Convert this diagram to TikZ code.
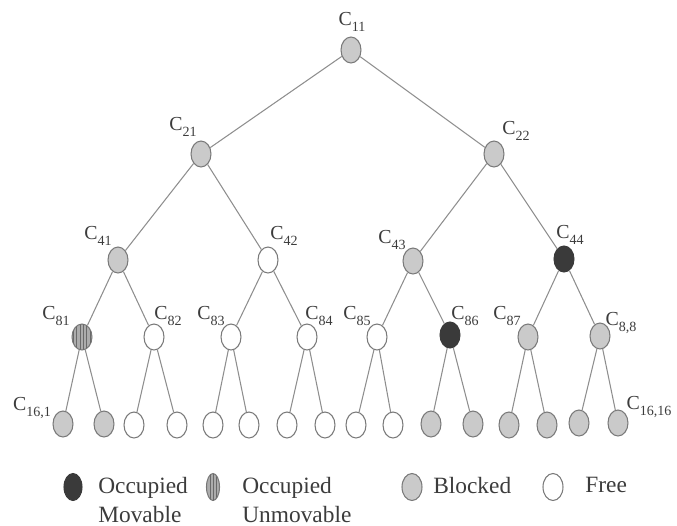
\documentclass[tikz,border=0pt]{standalone}
\usepackage{fontspec}
\setmainfont{Liberation Serif}
\usetikzlibrary{shapes.geometric}
\usetikzlibrary{patterns.meta}

\definecolor{edgegray}{HTML}{8E8E8E}
\definecolor{rimgray}{HTML}{7A7A7A}
\definecolor{blockgray}{HTML}{CACACA}
\definecolor{occgray}{HTML}{3A3A3A}
\definecolor{inkgray}{HTML}{3C3C3C}
\definecolor{stripegray}{HTML}{6A6A6A}

\newcommand{\cname}[1]{C\raisebox{-3.5pt}{\fontsize{8}{8}\selectfont #1}}

\begin{document}
\begin{tikzpicture}[x=0.02cm,y=-0.02cm]
	\tikzstyle{cell}=[draw=rimgray,line width=0.6pt,shape=ellipse,minimum width=0.4cm,minimum height=0.52cm,inner sep=0pt]
	\tikzstyle{blocked}=[cell,fill=blockgray]
	\tikzstyle{free}=[cell,fill=white]
	\tikzstyle{movable}=[cell,fill=occgray,draw=occgray]
	\tikzstyle{fixed}=[cell,fill=blockgray!85!black,postaction={pattern={Lines[angle=90,distance=1.9pt,line width=0.55pt]},pattern color=stripegray}]
	\tikzstyle{tag}=[inner sep=0pt,text=inkgray,font=\fontsize{11.3}{12}\selectfont]
	\tikzstyle{legend}=[inner sep=0pt,text=inkgray,align=left,anchor=north west,font=\fontsize{13.3}{16.4}\selectfont]
	\tikzstyle{edge}=[draw=edgegray,line width=0.6pt]
	
	\useasboundingbox (0,0) rectangle (677,525);
	
	\node[blocked](c11) at (351,50){};
	
	\node[blocked](c21) at (201,154){};
	\node[blocked](c22) at (494,154){};
	
	\node[blocked](c41) at (118,260){};
	\node[free](c42) at (268,260){};
	\node[blocked](c43) at (413,261){};
	\node[movable](c44) at (564,259){};
	
	\node[fixed](c81) at (82,337){};
	\node[free](c82) at (154,337){};
	\node[free](c83) at (231,337){};
	\node[free](c84) at (307,337){};
	\node[free](c85) at (377,337){};
	\node[movable](c86) at (450,335){};
	\node[blocked](c87) at (528,337){};
	\node[blocked](c88) at (600,336){};
	
	\node[blocked](d1) at (63,424){};
	\node[blocked](d2) at (104,424){};
	\node[free](d3) at (134,425){};
	\node[free](d4) at (177,425){};
	\node[free](d5) at (213,425){};
	\node[free](d6) at (249,425){};
	\node[free](d7) at (287,425){};
	\node[free](d8) at (325,425){};
	\node[free](d9) at (356,425){};
	\node[free](d10) at (393,425){};
	\node[blocked](d11) at (431,424){};
	\node[blocked](d12) at (473,424){};
	\node[blocked](d13) at (509,425){};
	\node[blocked](d14) at (547,425){};
	\node[blocked](d15) at (579,423){};
	\node[blocked](d16) at (618,423){};
	
	\node[tag](l11) at (352,22){\cname{11}};
	\node[tag](l21) at (183,127){\cname{21}};
	\node[tag](l22) at (516,131){\cname{22}};
	\node[tag](l41) at (98,236){\cname{41}};
	\node[tag](l42) at (284,236){\cname{42}};
	\node[tag](l43) at (392,240){\cname{43}};
	\node[tag](l44) at (570,235){\cname{44}};
	\node[tag](l81) at (56,316){\cname{81}};
	\node[tag](l82) at (168,316){\cname{82}};
	\node[tag](l83) at (211,316){\cname{83}};
	\node[tag](l84) at (319,316){\cname{84}};
	\node[tag](l85) at (357,316){\cname{85}};
	\node[tag](l86) at (465,316){\cname{86}};
	\node[tag](l87) at (507,316){\cname{87}};
	\node[tag](l88) at (621,323){\cname{8,8}};
	\node[tag](l161) at (32,408){\cname{16,1}};
	\node[tag](l1616) at (649,407){\cname{16,16}};
	
	\draw[edge] (c11) -- (c21);
	\draw[edge] (c11) -- (c22);
	
	\draw[edge] (c21) -- (c41);
	\draw[edge] (c21) -- (c42);
	\draw[edge] (c22) -- (c43);
	\draw[edge] (c22) -- (c44);
	
	\draw[edge] (c41) -- (c81);
	\draw[edge] (c41) -- (c82);
	\draw[edge] (c42) -- (c83);
	\draw[edge] (c42) -- (c84);
	\draw[edge] (c43) -- (c85);
	\draw[edge] (c43) -- (c86);
	\draw[edge] (c44) -- (c87);
	\draw[edge] (c44) -- (c88);
	
	\draw[edge] (c81) -- (d1);
	\draw[edge] (c81) -- (d2);
	\draw[edge] (c82) -- (d3);
	\draw[edge] (c82) -- (d4);
	\draw[edge] (c83) -- (d5);
	\draw[edge] (c83) -- (d6);
	\draw[edge] (c84) -- (d7);
	\draw[edge] (c84) -- (d8);
	\draw[edge] (c85) -- (d9);
	\draw[edge] (c85) -- (d10);
	\draw[edge] (c86) -- (d11);
	\draw[edge] (c86) -- (d12);
	\draw[edge] (c87) -- (d13);
	\draw[edge] (c87) -- (d14);
	\draw[edge] (c88) -- (d15);
	\draw[edge] (c88) -- (d16);
	
	% legend
	\node[movable,minimum width=0.36cm,minimum height=0.54cm](k1) at (73,487){};
	\node[legend](t1) at (98,477){Occupied\\Movable};
	\node[fixed,minimum width=0.26cm,minimum height=0.54cm](k2) at (213,487){};
	\node[legend](t2) at (242,477){Occupied\\Unmovable};
	\node[blocked,minimum height=0.54cm](k3) at (412,487){};
	\node[legend](t3) at (433,477){Blocked};
	\node[free,minimum height=0.54cm](k4) at (553,487){};
	\node[legend](t4) at (585,477){Free};
\end{tikzpicture}
\end{document}
